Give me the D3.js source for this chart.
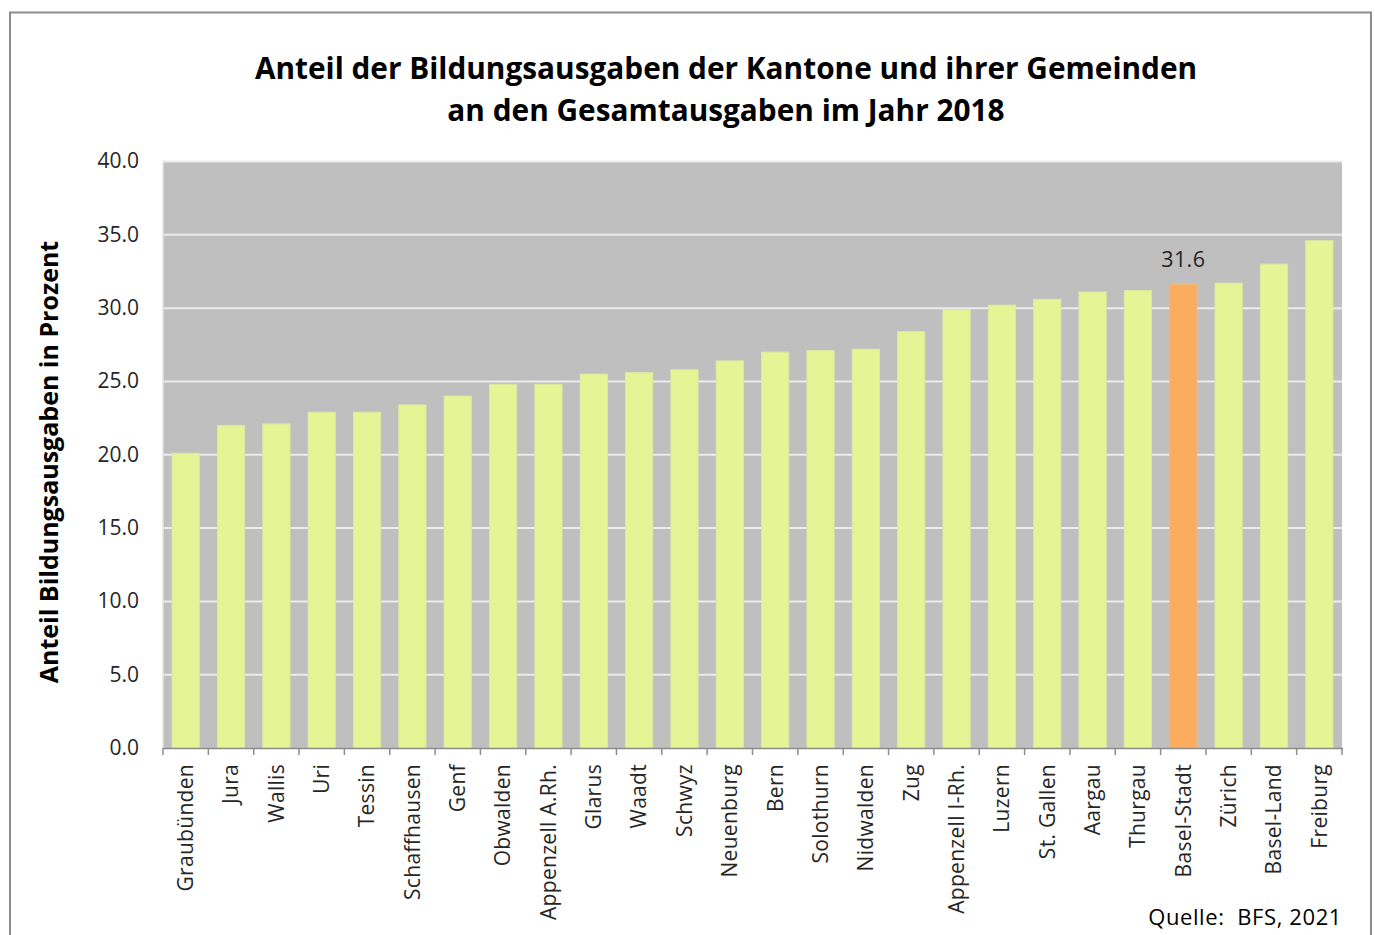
<!DOCTYPE html>
<html>
<head>
<meta charset="utf-8">
<script src="https://cdn.jsdelivr.net/npm/d3@7/dist/d3.min.js"></script>
<style>
  html, body { margin: 0; padding: 0; background: #fff; }
  svg { display: block; font-family: "Open Sans", "DejaVu Sans", sans-serif; }
  text { white-space: pre; }
</style>
</head>
<body>
<svg id="chart" width="1375" height="935"></svg>
<script>
// Kantone, sortiert nach Anteil der Bildungsausgaben (2018)
const cantons = [
  "Graubünden", "Jura", "Wallis", "Uri", "Tessin", "Schaffhausen", "Genf",
  "Obwalden", "Appenzell A.Rh.", "Glarus", "Waadt", "Schwyz", "Neuenburg",
  "Bern", "Solothurn", "Nidwalden", "Zug", "Appenzell I-Rh.", "Luzern",
  "St. Gallen", "Aargau", "Thurgau", "Basel-Stadt", "Zürich", "Basel-Land", "Freiburg"
];
const shares = [
  20.1, 22.0, 22.1, 22.9, 22.9, 23.4, 24.0,
  24.8, 24.8, 25.5, 25.6, 25.8, 26.4,
  27.0, 27.1, 27.2, 28.4, 29.9, 30.2,
  30.6, 31.1, 31.2, 31.6, 31.7, 33.0, 34.6
];
const highlighted = ["Basel-Stadt"];
const yTicks = [0, 5, 10, 15, 20, 25, 30, 35, 40];

const titleLines = [
  "Anteil der Bildungsausgaben der Kantone und ihrer Gemeinden",
  "an den Gesamtausgaben im Jahr 2018"
];
const yLabel = "Anteil Bildungsausgaben in Prozent";
const source = "Quelle:  BFS, 2021";

const svg = d3.select("#chart");
const plot = { left: 163, right: 1342, top: 161.5, bottom: 748 };

// outer frame
svg.append("rect")
  .attr("x", 10).attr("y", 12.5).attr("width", 1361).attr("height", 940)
  .attr("fill", "#fff").attr("stroke", "#8c8c8c").attr("stroke-width", 2);

const x = d3.scaleBand()
  .domain(cantons)
  .range([plot.left, plot.right])
  .paddingInner(0.4)
  .paddingOuter(0.2);

const y = d3.scaleLinear().domain([0, 40]).range([plot.bottom, plot.top]);

// plot background
svg.append("rect")
  .attr("x", plot.left).attr("y", plot.top)
  .attr("width", plot.right - plot.left).attr("height", plot.bottom - plot.top)
  .attr("fill", "#bfbfbf");

// gridlines
svg.append("g")
  .selectAll("line")
  .data(yTicks.filter(d => d > 0))
  .join("line")
  .attr("x1", plot.left).attr("x2", plot.right)
  .attr("y1", d => y(d)).attr("y2", d => y(d))
  .attr("stroke", "#ececec").attr("stroke-width", 2);

// left edge of plot area
svg.append("line")
  .attr("x1", plot.left).attr("x2", plot.left)
  .attr("y1", plot.top).attr("y2", plot.bottom)
  .attr("stroke", "#e4e4e4").attr("stroke-width", 1.5);

// bars
const data = cantons.map((c, i) => ({ canton: c, value: shares[i] }));
svg.append("g")
  .selectAll("rect")
  .data(data)
  .join("rect")
  .attr("x", d => x(d.canton))
  .attr("width", x.bandwidth())
  .attr("y", d => y(d.value))
  .attr("height", d => y(0) - y(d.value))
  .attr("fill", d => highlighted.includes(d.canton) ? "#fbac5e" : "#e5f495")
  .attr("stroke", d => highlighted.includes(d.canton) ? "#f5b878" : "#dde9a0")
  .attr("stroke-width", 1);

// value label of the highlighted canton
svg.append("g")
  .selectAll("text")
  .data(data.filter(d => highlighted.includes(d.canton)))
  .join("text")
  .attr("x", d => x(d.canton) + x.bandwidth() / 2)
  .attr("y", d => y(d.value) - 18)
  .attr("text-anchor", "middle")
  .attr("font-size", 21.5)
  .attr("letter-spacing", 0.4)
  .attr("fill", "#262626")
  .text(d => d.value.toFixed(1));

// y axis (labels only)
const yAxis = d3.axisLeft(y).tickValues(yTicks).tickFormat(d3.format(".1f")).tickSize(0).tickPadding(24);
const yg = svg.append("g").attr("transform", `translate(${plot.left},0)`).call(yAxis);
yg.select(".domain").remove();
yg.selectAll("text").attr("font-size", 21).attr("fill", "#262626")
  .attr("font-family", "\"Open Sans\", sans-serif").attr("dy", "0.3em");

// x axis with ticks between categories
const xg = svg.append("g").attr("transform", `translate(0,${plot.bottom})`);
xg.append("line")
  .attr("x1", plot.left).attr("x2", plot.right + 1)
  .attr("y1", 0.5).attr("y2", 0.5)
  .attr("stroke", "#8c8c8c").attr("stroke-width", 1.5);
const step = x.step();
const boundaries = d3.range(cantons.length + 1).map(i => x(cantons[0]) - x.paddingOuter() * step + i * step);
xg.selectAll("line.tick")
  .data(boundaries)
  .join("line")
  .attr("class", "tick")
  .attr("x1", d => d).attr("x2", d => d)
  .attr("y1", 0).attr("y2", 7)
  .attr("stroke", "#8c8c8c").attr("stroke-width", 1.5);
xg.selectAll("text")
  .data(cantons)
  .join("text")
  .attr("transform", d => `translate(${x(d) + x.bandwidth() / 2},16) rotate(-90)`)
  .attr("text-anchor", "end")
  .attr("dy", "0.35em")
  .attr("font-size", 21)
  .attr("letter-spacing", 0.3)
  .attr("fill", "#262626")
  .text(d => d);

// title
svg.append("g")
  .selectAll("text")
  .data(titleLines)
  .join("text")
  .attr("x", 726)
  .attr("y", (d, i) => 79 + i * 42)
  .attr("text-anchor", "middle")
  .attr("font-size", 29.8)
  .attr("font-weight", "bold")
  .attr("fill", "#000")
  .text(d => d);

// y axis title
svg.append("text")
  .attr("transform", `translate(58,462) rotate(-90)`)
  .attr("text-anchor", "middle")
  .attr("font-size", 25)
  .attr("font-weight", "bold")
  .attr("fill", "#000")
  .text(yLabel);

// source
svg.append("text")
  .attr("x", plot.right)
  .attr("y", 925)
  .attr("text-anchor", "end")
  .attr("font-size", 22)
  .attr("letter-spacing", 0.6)
  .attr("fill", "#000")
  .text(source);
</script>
</body>
</html>
